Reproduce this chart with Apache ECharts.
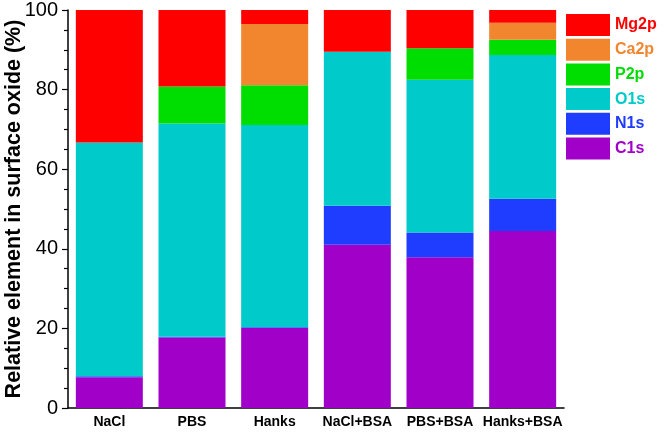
<!DOCTYPE html>
<html>
<head>
<meta charset="utf-8">
<script src="https://cdn.jsdelivr.net/npm/echarts@6/dist/echarts.min.js"></script>
<style>html,body{margin:0;padding:0;background:#fff;}#c{width:664px;height:435px;}</style>
</head>
<body>
<div id="c"></div>
<script>
const categories = ['NaCl', 'PBS', 'Hanks', 'NaCl+BSA', 'PBS+BSA', 'Hanks+BSA'];
const C1s  = [7.7, 17.7, 20.1, 41.0, 37.9, 44.5];
const N1s  = [0.3, 0.2, 0.2, 9.8, 6.2, 8.1];
const O1s  = [58.7, 53.6, 50.8, 38.7, 38.4, 36.1];
const P2p  = [0, 9.3, 10.0, 0, 7.9, 3.8];
const Ca2p = [0, 0, 15.4, 0, 0, 4.3];
const Mg2p = [33.3, 19.2, 3.5, 10.5, 9.6, 3.2];
const yTicks = [0, 20, 40, 60, 80, 100];

const seriesDefs = [
  {name: 'C1s', data: C1s, color: '#A000C8'},
  {name: 'N1s', data: N1s, color: '#1F3DFF'},
  {name: 'O1s', data: O1s, color: '#00CACA'},
  {name: 'P2p', data: P2p, color: '#00DD00'},
  {name: 'Ca2p', data: Ca2p, color: '#F2862E'},
  {name: 'Mg2p', data: Mg2p, color: '#FF0000'}
];

const chart = echarts.init(document.getElementById('c'), null, {renderer: 'canvas'});
chart.setOption({
  animation: false,
  backgroundColor: '#fff',
  grid: {left: 68, right: 100, top: 10, bottom: 27, containLabel: false, outerBoundsMode: 'none'},
  legend: {
    orient: 'vertical',
    left: 561, top: 9,
    itemWidth: 44, itemHeight: 22, itemGap: 2.7,
    icon: 'rect',
    textStyle: {fontFamily: 'Liberation Sans, Arial', fontWeight: 'bold', fontSize: 16},
    data: seriesDefs.slice().reverse().map(s => ({name: s.name, textStyle: {color: s.color}}))
  },
  xAxis: {
    type: 'category',
    data: categories,
    axisLine: {lineStyle: {color: '#000', width: 1.5}},
    axisTick: {alignWithLabel: true, length: 5, lineStyle: {color: '#000', width: 1.2}},
    axisLabel: {color: '#000', fontFamily: 'Liberation Sans, Arial', fontWeight: 'bold', fontSize: 14, margin: 7, interval: 0}
  },
  yAxis: {
    type: 'value',
    min: yTicks[0], max: yTicks[yTicks.length - 1], interval: 20,
    name: 'Relative element in surface oxide (%)',
    nameLocation: 'middle',
    nameGap: 43,
    nameMoveOverlap: false,
    nameTextStyle: {color: '#000', fontFamily: 'Liberation Sans, Arial', fontWeight: 'bold', fontSize: 21.5},
    axisLine: {show: true, lineStyle: {color: '#000', width: 1.5}},
    axisTick: {show: true, length: 6, lineStyle: {color: '#000', width: 1.2}},
    minorTick: {show: true, splitNumber: 4, length: 4, lineStyle: {color: '#000', width: 1.2}},
    splitLine: {show: false},
    axisLabel: {color: '#000', fontFamily: 'Liberation Sans, Arial', fontSize: 20, margin: 10}
  },
  series: seriesDefs.map(s => ({
    name: s.name,
    type: 'bar',
    stack: 'total',
    barWidth: 67,
    data: s.data,
    itemStyle: {color: s.color}
  }))
});
</script>
</body>
</html>
